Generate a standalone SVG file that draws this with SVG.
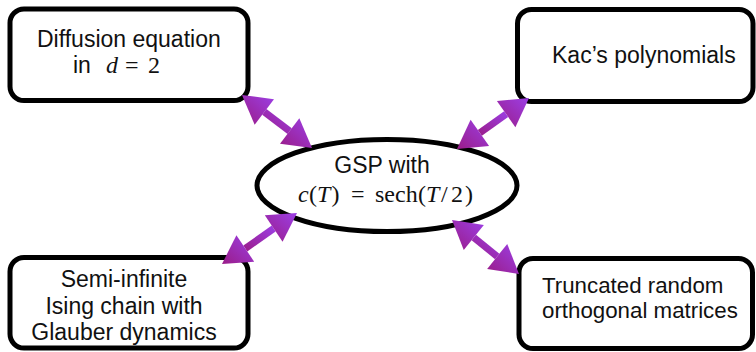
<svg xmlns="http://www.w3.org/2000/svg" width="756" height="352" viewBox="0 0 756 352">
  <style>
    .box { fill: #ffffff; stroke: #000000; stroke-width: 5; }
    .lbl { font-family: "Liberation Sans", Arial, Helvetica, sans-serif; font-size: 23px; fill: #111111; }
    .math { font-family: "Liberation Serif", "Times New Roman", serif; font-size: 24px; fill: #111111; }
    .it { font-style: italic; }
    .arw { fill: url(#arrowFill); }
  </style>
  <defs>
    <linearGradient id="arrowFill" x1="0" y1="1" x2="1" y2="0">
      <stop offset="0" stop-color="#9a1c88"/>
      <stop offset="1" stop-color="#9c3fe6"/>
    </linearGradient>
  </defs>

  <g id="node-diffusion">
    <rect class="box" x="10" y="9" width="238" height="91.5" rx="14"/>
    <text class="lbl" x="37" y="47">Diffusion equation</text>
    <text class="lbl" x="73" y="73">in</text>
    <text class="math" y="73"><tspan class="it" x="106">d</tspan><tspan x="125">=</tspan><tspan x="148">2</tspan></text>
  </g>

  <g id="node-kac">
    <rect class="box" x="517.5" y="9.5" width="235.5" height="92" rx="14"/>
    <text class="lbl" x="552" y="63">Kac’s polynomials</text>
  </g>

  <g id="node-ising">
    <rect class="box" x="10" y="257.5" width="238" height="90.5" rx="14"/>
    <text class="lbl" x="124" y="287" text-anchor="middle">Semi-infinite</text>
    <text class="lbl" x="124" y="314" text-anchor="middle">Ising chain with</text>
    <text class="lbl" x="124" y="340" text-anchor="middle">Glauber dynamics</text>
  </g>

  <g id="node-matrices">
    <rect class="box" x="519" y="258.5" width="233.5" height="90" rx="14"/>
    <text class="lbl" x="542" y="293" style="font-size:22.3px">Truncated random</text>
    <text class="lbl" x="542" y="318" style="font-size:22.3px">orthogonal matrices</text>
  </g>

  <g id="node-gsp">
    <ellipse class="box" cx="387" cy="185.5" rx="130" ry="46"/>
    <text class="lbl" x="382" y="173" text-anchor="middle">GSP with</text>
    <text class="math" y="202"><tspan class="it" x="298">c</tspan><tspan x="309">(</tspan><tspan class="it" x="317">T</tspan><tspan x="331.5">)</tspan><tspan x="351">=</tspan><tspan x="375">sech</tspan><tspan x="418">(</tspan><tspan class="it" x="426">T</tspan><tspan x="441">/</tspan><tspan x="451">2</tspan><tspan x="465">)</tspan></text>
  </g>

  <g id="connectors">
    <!-- Diffusion equation <-> GSP -->
    <g>
      <path class="arw" d="M266.43,109.12 L291.79,128.30 L287.57,133.88 L262.21,114.70 Z"/>
      <path class="arw" d="M242,95 L273.98,99.16 L254.66,124.66 Z"/>
      <path class="arw" d="M312,148 L280.02,143.84 L299.34,118.34 Z"/>
    </g>
    <!-- Kac's polynomials <-> GSP -->
    <g>
      <path class="arw" d="M477.83,129.96 L504.13,111.32 L508.17,117.04 L481.87,135.68 Z"/>
      <path class="arw" d="M457,149 L470.60,119.76 L489.10,145.88 Z"/>
      <path class="arw" d="M529,98 L496.90,101.12 L515.40,127.24 Z"/>
    </g>
    <!-- Ising chain <-> GSP -->
    <g>
      <path class="arw" d="M243.36,245.56 L271.76,225.62 L275.64,231.44 L247.24,251.38 Z"/>
      <path class="arw" d="M222,264 L236.42,235.16 L254.18,261.78 Z"/>
      <path class="arw" d="M297,213 L264.82,215.22 L282.58,241.84 Z"/>
    </g>
    <!-- Truncated random orthogonal matrices <-> GSP -->
    <g>
      <path class="arw" d="M476.00,234.84 L499.40,253.70 L495.00,259.16 L471.60,240.30 Z"/>
      <path class="arw" d="M452,220 L483.85,225.11 L463.75,250.03 Z"/>
      <path class="arw" d="M519,274 L487.15,268.89 L507.25,243.97 Z"/>
    </g>
  </g>
</svg>
